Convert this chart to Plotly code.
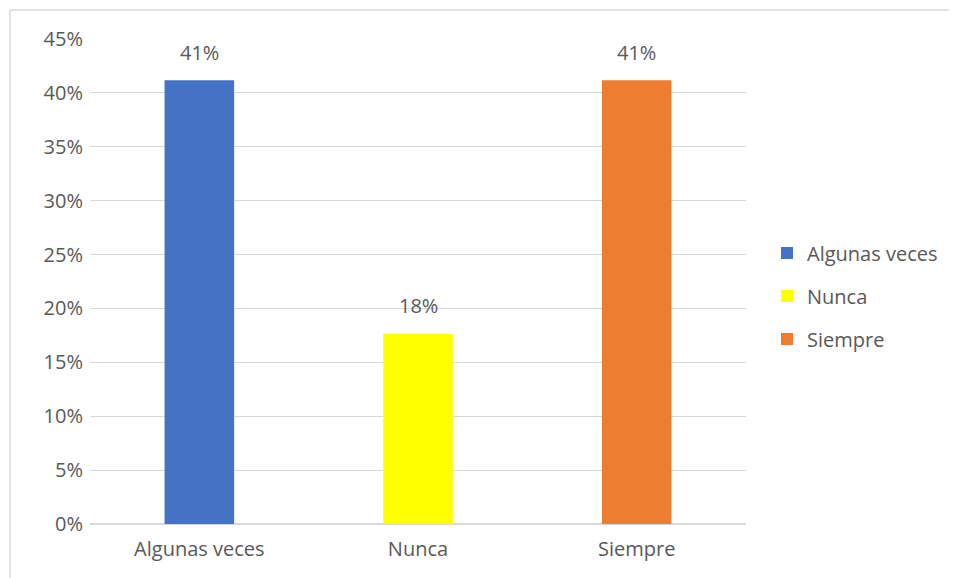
import plotly.graph_objects as go

categories = ["Algunas veces", "Nunca", "Siempre"]
values = [0.4118, 0.1765, 0.4118]
labels = ["41%", "18%", "41%"]
colors = ["#4472C4", "#FFFF00", "#ED7D31"]
tick_vals = [0, 0.05, 0.10, 0.15, 0.20, 0.25, 0.30, 0.35, 0.40, 0.45]
tick_text = ["0%", "5%", "10%", "15%", "20%", "25%", "30%", "35%", "40%", "45%"]

FONT = "'Open Sans', sans-serif"
TXT = "#595959"
FS = 20

W, H = 949, 570
L, R, T, B = 82, 211, 31, 54
PW, PH = W - L - R, H - T - B

fig = go.Figure()
for i, (c, v, col) in enumerate(zip(categories, values, colors)):
    fig.add_trace(go.Bar(
        x=[c], y=[v], name=c, marker=dict(color=col, line=dict(width=0)),
        width=0.318, legendgroup=c, hoverinfo="skip",
    ))
    fig.add_annotation(x=c, y=v, text=labels[i], showarrow=False, yshift=28,
                       font=dict(family=FONT, size=FS, color=TXT))

bx = (2 - L) / PW
by = 1 + (T - 2) / PH

fig.update_layout(
    width=W, height=H,
    margin=dict(l=L, r=R, t=T, b=B),
    paper_bgcolor="white", plot_bgcolor="white",
    barmode="overlay",
    font=dict(family=FONT, size=FS, color=TXT),
    showlegend=True,
    legend=dict(x=(759 - L) / PW, y=(H - B - 288) / PH, xanchor="left", yanchor="middle",
                tracegroupgap=14, font=dict(family=FONT, size=FS, color=TXT),
                itemwidth=30, bgcolor="rgba(0,0,0,0)"),
    xaxis=dict(showgrid=False, showline=False, zeroline=False, ticks="",
               tickfont=dict(family=FONT, size=FS, color=TXT), ticklabelstandoff=11),
    yaxis=dict(range=[0, 0.45], tickvals=tick_vals, ticktext=tick_text,
               showgrid=True, gridcolor="#d9d9d9", gridwidth=1,
               zeroline=True, zerolinecolor="#d9d9d9", showline=False, ticks="",
               tickfont=dict(family=FONT, size=FS, color=TXT), ticklabelstandoff=6),
    shapes=[
        dict(type="line", xref="paper", yref="paper", x0=bx, x1=(W - L) / PW,
             y0=by, y1=by, line=dict(color="#d9d9d9", width=1.5)),
        dict(type="line", xref="paper", yref="paper", x0=bx, x1=bx,
             y0=by, y1=-B / PH, line=dict(color="#d9d9d9", width=1.5)),
    ],
)

fig.write_html("out.html")
